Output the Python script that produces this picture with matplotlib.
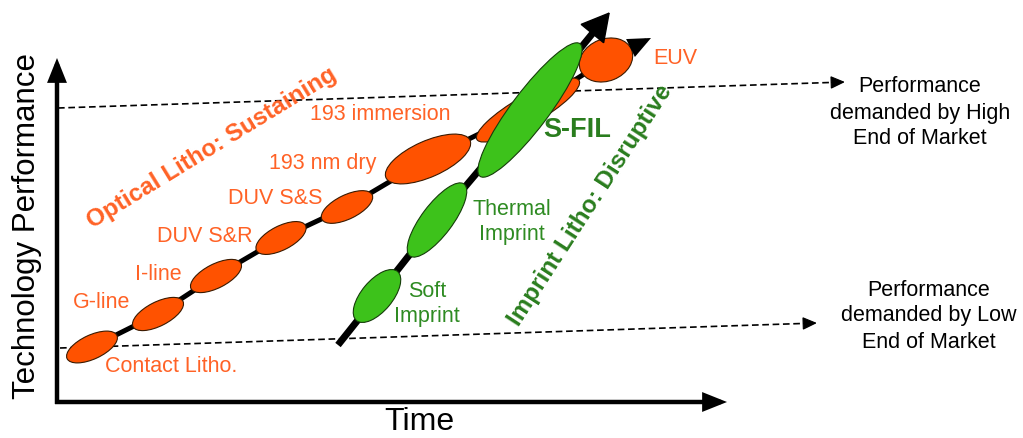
import matplotlib.pyplot as plt
from matplotlib.patches import Ellipse, FancyArrowPatch

plt.rcParams['font.family'] = ['Liberation Sans', 'DejaVu Sans']

# optical litho generations (time, performance in picture units, y down)
optical_names = ['Contact Litho.', 'G-line', 'I-line', 'DUV S&R', 'DUV S&S',
                 '193 nm dry', '193 immersion', 'EUV']
optical_x = [92, 158, 216, 281, 347, 428, 528, 606]
optical_y = [347, 314, 276, 238, 207, 159, 110, 60]
optical_len = [55, 56, 56, 55, 56, 92, 118, 55]
optical_wid = [24, 24, 24, 24, 24, 36, 29, 42]
optical_ang = [25, 27, 27, 27, 26, 24, 30, 22]
optical_end = (651, 38)

# imprint litho generations
imprint_names = ['Soft\nImprint', 'Thermal\nImprint', 'S-FIL']
imprint_x = [377, 437, 530]
imprint_y = [296, 220, 110]
imprint_len = [64, 90, 166]
imprint_wid = [31, 31, 37]
imprint_ang = [50, 53, 53]
imprint_start = (338, 345)
imprint_end = (610, 12)

# market demand lines
high_line = [(58, 108), (845, 82)]
low_line = [(60, 348), (817, 323)]

ORANGE_FILL = '#FF5200'
ORANGE_TEXT = '#FF6226'
GREEN_FILL = '#3DC21B'
GREEN_TEXT = '#2E8B22'
DARK_GREEN = '#2A7D1E'

fig = plt.figure(figsize=(10.23, 4.38), dpi=100)
ax = fig.add_axes([0, 0, 1, 1])
ax.set_xlim(0, 1023)
ax.set_ylim(438, 0)
ax.axis('off')


def arrow(p0, p1, lw, hl, hw, ms, z):
    a = FancyArrowPatch(p0, p1, arrowstyle=f'-|>,head_length={hl},head_width={hw}',
                        mutation_scale=ms, lw=lw, color='black',
                        shrinkA=0, shrinkB=0, zorder=z, capstyle='butt',
                        joinstyle='miter')
    ax.add_patch(a)


def toward(p0, p1, frac):
    return (p0[0] + (p1[0] - p0[0]) * frac, p0[1] + (p1[1] - p0[1]) * frac)


# main axes
arrow((57, 404), (57, 58), 3.2, 1.0, 0.4, 12, 2)
arrow((55, 402), (727, 402), 3.2, 1.0, 0.4, 12, 2)
ax.text(27, 226, 'Technology Performance', rotation=90, ha='center', va='center',
        fontsize=22.5, color='black')
ax.text(419, 437, 'Time', ha='center', va='bottom', fontsize=23, color='black')

# dashed demand lines
for (x0, y0), (x1, y1) in [high_line, low_line]:
    ax.plot([x0, x1 - 10], [y0, y1 + 10 * (y0 - y1) / (x1 - x0)], color='black',
            lw=1.2, dashes=(4, 2.2), zorder=1)
    arrow((x1 - 14, y1 + 14 * (y0 - y1) / (x1 - x0)), (x1, y1), 0.8, 1.0, 0.45, 9, 1)

ax.text(920, 87, 'Performance', ha='center', va='center', fontsize=15.5)
ax.text(920, 113, 'demanded by High', ha='center', va='center', fontsize=15.5)
ax.text(920, 138, 'End of Market', ha='center', va='center', fontsize=15.5)
ax.text(929, 290, 'Performance', ha='center', va='center', fontsize=15.5)
ax.text(929, 316, 'demanded by Low', ha='center', va='center', fontsize=15.5)
ax.text(929, 342, 'End of Market', ha='center', va='center', fontsize=15.5)

# optical chain
euv = (optical_x[-1], optical_y[-1])
ax.plot(optical_x, optical_y, color='black', lw=3.6, zorder=3, solid_capstyle='butt')
arrow(toward(euv, optical_end, 0.55), optical_end, 3.0, 0.8, 0.35, 14, 4.5)
for x, y, w, h, a in zip(optical_x, optical_y, optical_len, optical_wid, optical_ang):
    ax.add_patch(Ellipse((x, y), w, h, angle=-a, fc=ORANGE_FILL, ec='#3a1a00',
                         lw=0.8, zorder=4))

optical_lab = [(105, 366), (73, 303), (135, 275), (157, 237), (228, 199),
               (269, 163), (310, 115), (653, 59)]
for name, (lx, ly) in zip(optical_names, optical_lab):
    ax.text(lx, ly, name, ha='left', va='center', fontsize=15.5, color=ORANGE_TEXT,
            zorder=7)

ax.text(212, 148, 'Optical Litho: Sustaining', rotation=31.5, ha='center', va='center',
        fontsize=17.5, fontweight='bold', color=ORANGE_TEXT, rotation_mode='anchor')

# imprint chain
sfil = (imprint_x[-1], imprint_y[-1])
ax.plot([imprint_start[0]] + imprint_x + [toward(sfil, imprint_end, 0.8)[0]],
        [imprint_start[1]] + imprint_y + [toward(sfil, imprint_end, 0.8)[1]],
        color='black', lw=5, zorder=5, solid_capstyle='butt')
arrow(toward(sfil, imprint_end, 0.5), imprint_end, 1.0, 1.0, 0.55, 19, 5)
for x, y, w, h, a in zip(imprint_x, imprint_y, imprint_len, imprint_wid, imprint_ang):
    ax.add_patch(Ellipse((x, y), w, h, angle=-a, fc=GREEN_FILL, ec='#153d0a',
                         lw=0.8, zorder=6))

ax.text(427, 304, imprint_names[0], ha='center', va='center', fontsize=15.5,
        color=GREEN_TEXT, linespacing=1.2, zorder=7)
ax.text(512, 222, imprint_names[1], ha='center', va='center', fontsize=15.5,
        color=GREEN_TEXT, linespacing=1.2, zorder=7)
ax.text(577, 130, imprint_names[2], ha='center', va='center', fontsize=19.5,
        fontweight='bold', color=DARK_GREEN, zorder=7)

ax.text(590, 205, 'Imprint Litho: Disruptive', rotation=57, ha='center', va='center',
        fontsize=17.5, fontweight='bold', color=DARK_GREEN, rotation_mode='anchor')

fig.savefig('out.png', dpi=100)
